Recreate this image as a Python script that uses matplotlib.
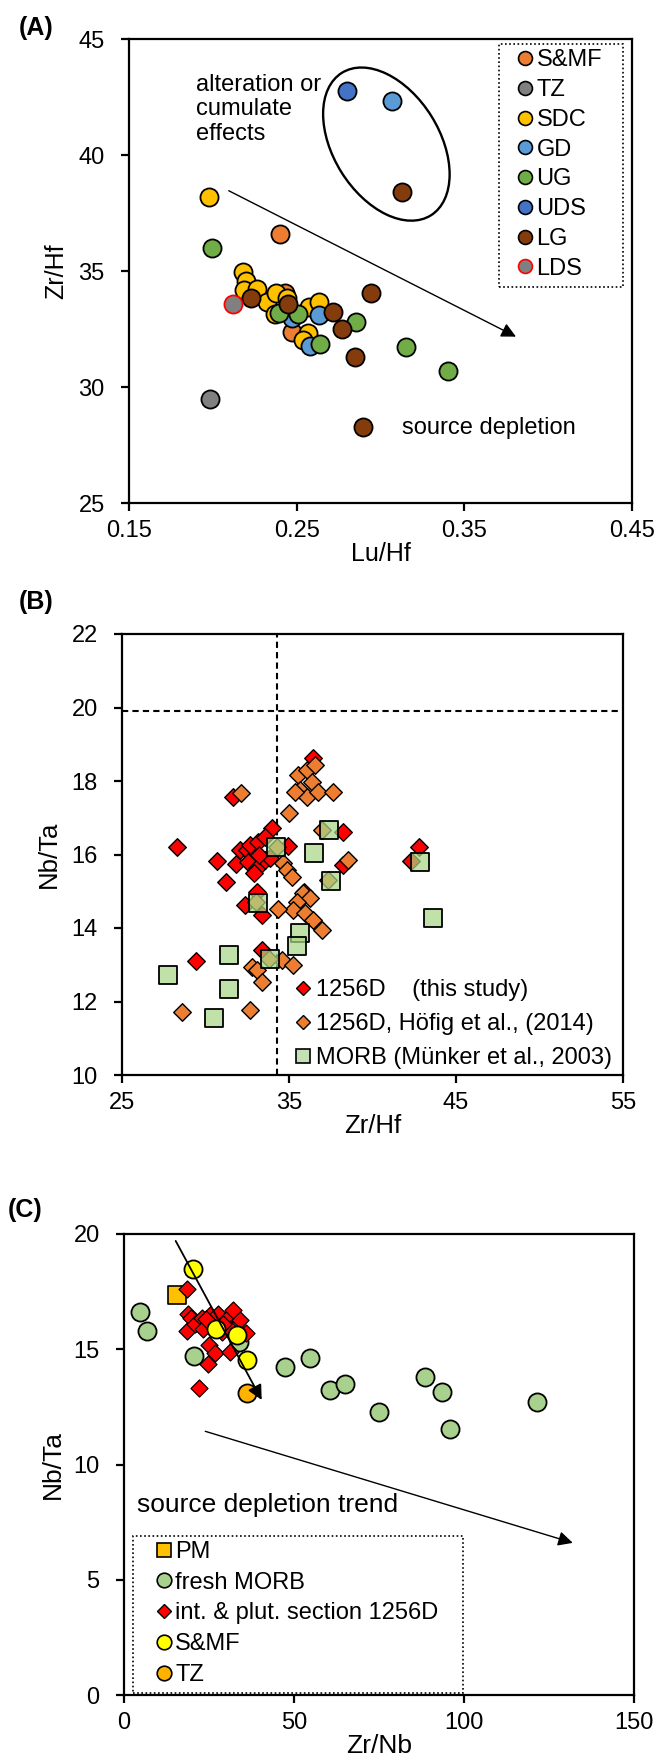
import matplotlib
matplotlib.use("Agg")
import matplotlib.pyplot as plt
from matplotlib.lines import Line2D
from matplotlib.patches import Ellipse, Rectangle
from matplotlib.transforms import ScaledTranslation

plt.rcParams['font.family'] = ['Liberation Sans', 'DejaVu Sans']
plt.rcParams['font.size'] = 17

# ---------------- (A) Zr/Hf vs Lu/Hf ----------------
a_groups = ["S&MF", "TZ", "SDC", "GD", "UG", "UDS", "LG", "LDS"]
a_face = ["#ED7D31", "#808080", "#FFC000", "#5B9BD5", "#70AD47", "#4472C4", "#843C0C", "#808080"]
a_edge = ["black", "black", "black", "black", "black", "black", "black", "#FF0000"]

a_smf_x = [0.2402, 0.2430, 0.2474]
a_smf_y = [36.58, 34.07, 32.38]
a_tz_x = [0.1983]
a_tz_y = [29.48]
a_sdc_x = [0.1975, 0.2178, 0.2198, 0.2186, 0.2265, 0.2321, 0.2377, 0.2445, 0.2371,
           0.2575, 0.2631, 0.2566, 0.2536]
a_sdc_y = [38.20, 34.97, 34.58, 34.18, 34.21, 33.68, 34.07, 33.85, 33.15,
           33.43, 33.68, 32.34, 32.03]
a_gd_x = [0.3069, 0.2470, 0.2631, 0.2580]
a_gd_y = [42.34, 32.96, 33.10, 31.77]
a_ug_x = [0.1997, 0.2397, 0.2506, 0.2852, 0.2639, 0.3150, 0.3400]
a_ug_y = [35.98, 33.20, 33.15, 32.79, 31.84, 31.74, 30.69]
a_uds_x = [0.2798]
a_uds_y = [42.77]
a_lg_x = [0.3126, 0.2226, 0.2450, 0.2714, 0.2768, 0.2941, 0.2848, 0.2893]
a_lg_y = [38.42, 33.82, 33.58, 33.25, 32.50, 34.04, 31.28, 28.29]
a_lds_x = [0.2122]
a_lds_y = [33.58]

a_xs = [a_smf_x, a_tz_x, a_sdc_x, a_gd_x, a_ug_x, a_uds_x, a_lg_x, a_lds_x]
a_ys = [a_smf_y, a_tz_y, a_sdc_y, a_gd_y, a_ug_y, a_uds_y, a_lg_y, a_lds_y]

a_xticks = [0.15, 0.25, 0.35, 0.45]
a_yticks = [25, 30, 35, 40, 45]

# ---------------- (B) Nb/Ta vs Zr/Hf ----------------
b_this_x = [28.27, 29.41, 30.67, 31.21, 31.67, 31.83, 32.07, 32.47, 32.56, 32.66,
            33.16, 33.07, 33.56, 33.96, 33.56, 33.86, 34.96, 33.07, 32.37, 33.37,
            33.37, 36.42, 38.26, 38.26, 42.79, 42.29, 35.92, 33.20, 32.90]
b_this_y = [16.20, 13.11, 15.82, 15.24, 17.57, 15.74, 16.12, 16.12, 15.80, 16.26,
            16.35, 15.62, 15.85, 16.71, 16.48, 15.90, 16.23, 14.99, 14.63, 14.35,
            13.40, 18.62, 16.62, 15.71, 16.20, 15.83, 14.99, 16.00, 15.50]
b_hofig_x = [32.13, 35.02, 35.52, 36.06, 36.56, 36.36, 35.66, 36.06, 36.76, 37.66,
             35.36, 36.96, 34.66, 34.86, 35.16, 34.26, 38.55, 37.36, 35.86, 36.26,
             35.46, 35.26, 35.96, 36.46, 36.96, 34.36, 33.02, 32.77, 33.07, 33.37,
             32.66, 28.57, 34.56, 35.22, 33.82]
b_hofig_y = [17.66, 17.12, 18.16, 18.30, 18.44, 17.98, 17.76, 17.57, 17.71, 17.71,
             17.71, 16.67, 15.76, 15.58, 15.40, 16.21, 15.85, 15.31, 14.94, 14.81,
             14.72, 14.49, 14.40, 14.22, 13.95, 14.51, 14.72, 12.95, 12.86, 12.54,
             11.77, 11.72, 13.13, 13.00, 13.17]
b_morb_x = [27.77, 30.53, 31.43, 31.43, 33.86, 33.16, 34.22, 36.50, 37.41, 37.53,
            35.66, 35.46, 42.84, 43.64]
b_morb_y = [12.72, 11.56, 12.34, 13.27, 13.17, 14.69, 16.20, 16.05, 16.67, 15.29,
            13.86, 13.51, 15.80, 14.26]
b_chondrite_zrhf = 34.3
b_chondrite_nbta = 19.9
b_xticks = [25, 35, 45, 55]
b_yticks = [10, 12, 14, 16, 18, 20, 22]

# ---------------- (C) Nb/Ta vs Zr/Nb ----------------
c_pm_x = [15.7]
c_pm_y = [17.35]
c_morb_x = [4.7, 6.9, 20.6, 33.9, 47.3, 54.8, 60.6, 65.0, 75.1, 88.5, 93.4, 95.9, 121.6]
c_morb_y = [16.6, 15.8, 14.7, 15.3, 14.25, 14.6, 13.23, 13.5, 12.27, 13.8, 13.13, 11.52, 12.69]
c_sec_x = [18.4, 22.1, 24.6, 25.1, 26.8, 31.3, 18.4, 18.9, 19.6, 20.9, 22.85, 23.3,
           25.3, 27.7, 30.2, 32.0, 34.1, 35.9, 28.7, 31.2, 24.0, 29.0]
c_sec_y = [17.6, 13.3, 14.35, 15.2, 14.85, 14.9, 15.8, 16.55, 16.35, 16.1, 16.35, 15.9,
           16.5, 16.55, 16.3, 16.7, 16.25, 15.7, 15.75, 15.9, 16.3, 16.1]
c_smf_x = [20.2, 27.0, 33.1, 36.1]
c_smf_y = [18.5, 15.9, 15.6, 14.55]
c_tz_x = [36.1]
c_tz_y = [13.1]
c_xticks = [0, 50, 100, 150]
c_yticks = [0, 5, 10, 15, 20]

W, H = 660, 1764
fig = plt.figure(figsize=(W / 100, H / 100), dpi=100)


def frame(ax):
    for s in ax.spines.values():
        s.set_linewidth(1.6)
    ax.tick_params(direction='out', length=6, width=1.6, labelsize=17)
    ax.tick_params(axis='x', pad=6)
    ax.tick_params(axis='y', pad=11.5)


def dotted_box(ax, x0, y0, x1, y1):
    ax.add_patch(Rectangle((x0, y0), x1 - x0, y1 - y0, transform=ax.transAxes,
                           fill=False, edgecolor='black', lw=1.2,
                           ls=(0, (1, 1.5)), clip_on=False, zorder=6))


# ---- panel A ----
axA = fig.add_axes([129 / W, 1 - 503 / H, 503 / W, 464 / H])
for x, y, fc, ec in zip(a_xs, a_ys, a_face, a_edge):
    axA.scatter(x, y, s=170, c=fc, edgecolors=ec, linewidths=1.3, zorder=3)
axA.set_xlim(0.15, 0.45)
axA.set_ylim(25, 45)
axA.set_xticks(a_xticks)
axA.set_xticklabels([f"{t:.2f}" for t in a_xticks])
axA.set_yticks(a_yticks)
frame(axA)
axA.set_xlabel("Lu/Hf", fontsize=18, labelpad=0)
axA.set_ylabel("Zr/Hf", fontsize=18)
axA.yaxis.set_label_coords(-0.121, 0.5)

a_handles = [Line2D([], [], marker='o', ls='none', ms=10, mfc=fc, mec=ec, mew=1.2)
             for fc, ec in zip(a_face, a_edge)]
axA.legend(a_handles, a_groups, loc='upper left', bbox_to_anchor=(0.775, 0.978),
           borderaxespad=0, fontsize=17, handlelength=0.5, handletextpad=0.25,
           labelspacing=0.33, borderpad=0.0, frameon=False)
dotted_box(axA, 0.735, 0.466, 0.982, 0.9886)

axA.text(0.1898, 43.5, "alteration or\ncumulate\neffects", fontsize=17,
         va='top', ha='left', linespacing=1.15)
axA.text(0.313, 28.25, "source depletion", fontsize=17, va='center', ha='left')

# ellipse around the off-trend group, drawn in inches about a data centre
ell_tr = fig.dpi_scale_trans + ScaledTranslation(0.3035, 40.47, axA.transData)
axA.add_patch(Ellipse((0, 0), 1.68, 1.06, angle=-58, transform=ell_tr,
                      fill=False, edgecolor='black', lw=1.7, zorder=4))
axA.annotate("", xy=(0.3808, 32.17), xytext=(0.2095, 38.46),
             arrowprops=dict(arrowstyle='-|>', color='black', lw=1.0,
                             mutation_scale=22, shrinkA=0, shrinkB=0), zorder=5)

# ---- panel B ----
axB = fig.add_axes([122 / W, 1 - 1075 / H, 501 / W, 441 / H])
axB.axvline(b_chondrite_zrhf, color='black', ls=(0, (3, 2)), lw=1.5, zorder=1)
axB.axhline(b_chondrite_nbta, color='black', ls=(0, (3, 2)), lw=1.5, zorder=1)
axB.scatter(b_this_x, b_this_y, marker='D', s=80, c='#FF0000', edgecolors='black',
            linewidths=1.0, zorder=3)
axB.scatter(b_hofig_x, b_hofig_y, marker='D', s=80, c='#ED7D31', edgecolors='black',
            linewidths=1.0, zorder=3)
axB.scatter(b_morb_x, b_morb_y, marker='s', s=180, c=[(0.66, 0.84, 0.52, 0.72)],
            edgecolors='black', linewidths=1.3, zorder=4)
axB.set_xlim(25, 55)
axB.set_ylim(10, 22)
axB.set_xticks(b_xticks)
axB.set_yticks(b_yticks)
frame(axB)
axB.set_xlabel("Zr/Hf", fontsize=18.5, labelpad=0)
axB.set_ylabel("Nb/Ta", fontsize=18.5)
axB.yaxis.set_label_coords(-0.123, 0.5)
b_handles = [
    Line2D([], [], marker='D', ls='none', ms=7.5, mfc='#FF0000', mec='black', mew=1.0),
    Line2D([], [], marker='D', ls='none', ms=7.5, mfc='#ED7D31', mec='black', mew=1.0),
    Line2D([], [], marker='s', ls='none', ms=10.5, mfc='#C5E0B4', mec='black', mew=1.2),
]
b_labels = ["1256D    (this study)", "1256D, Höfig et al., (2014)", "MORB (Münker et al., 2003)"]
axB.legend(b_handles, b_labels, loc='upper left', bbox_to_anchor=(0.349, 0.218),
           borderaxespad=0, fontsize=17, handlelength=0.5, handletextpad=0.3,
           labelspacing=0.52, borderpad=0.0, frameon=False)

# ---- panel C ----
axC = fig.add_axes([124 / W, 1 - 1695 / H, 510 / W, 461 / H])
axC.scatter(c_pm_x, c_pm_y, marker='s', s=170, c='#FFC000', edgecolors='black',
            linewidths=1.2, zorder=3)
axC.scatter(c_morb_x, c_morb_y, marker='o', s=170, c='#A9D18E', edgecolors='black',
            linewidths=1.3, zorder=3)
axC.scatter(c_sec_x, c_sec_y, marker='D', s=75, c='#FF0000', edgecolors='black',
            linewidths=0.9, zorder=4)
axC.scatter(c_smf_x, c_smf_y, marker='o', s=170, c='#FFFF00', edgecolors='black',
            linewidths=1.3, zorder=5)
axC.scatter(c_tz_x, c_tz_y, marker='o', s=170, c='#FFB300', edgecolors='black',
            linewidths=1.3, zorder=5)
axC.set_xlim(0, 150)
axC.set_ylim(0, 20)
axC.set_xticks(c_xticks)
axC.set_yticks(c_yticks)
frame(axC)
axC.set_xlabel("Zr/Nb", fontsize=19, labelpad=0)
axC.set_ylabel("Nb/Ta", fontsize=19)
axC.yaxis.set_label_coords(-0.115, 0.5)
axC.annotate("", xy=(40.5, 12.8), xytext=(15.2, 19.7),
             arrowprops=dict(arrowstyle='-|>', color='black', lw=1.3,
                             mutation_scale=22, shrinkA=0, shrinkB=0), zorder=6)
axC.annotate("", xy=(132.0, 6.6), xytext=(23.9, 11.44),
             arrowprops=dict(arrowstyle='-|>', color='black', lw=1.0,
                             mutation_scale=22, shrinkA=0, shrinkB=0), zorder=6)
axC.text(3.8, 8.23, "source depletion trend", fontsize=19, va='center', ha='left')
c_handles = [
    Line2D([], [], marker='s', ls='none', ms=10.5, mfc='#FFC000', mec='black', mew=1.2),
    Line2D([], [], marker='o', ls='none', ms=10.5, mfc='#A9D18E', mec='black', mew=1.2),
    Line2D([], [], marker='D', ls='none', ms=6.8, mfc='#FF0000', mec='black', mew=1.0),
    Line2D([], [], marker='o', ls='none', ms=10.5, mfc='#FFFF00', mec='black', mew=1.2),
    Line2D([], [], marker='o', ls='none', ms=10.5, mfc='#FFB300', mec='black', mew=1.2),
]
c_labels = ["PM", "fresh MORB", "int. & plut. section 1256D", "S&MF", "TZ"]
axC.legend(c_handles, c_labels, loc='upper left', bbox_to_anchor=(0.0659, 0.334),
           borderaxespad=0, fontsize=17, handlelength=0.5, handletextpad=0.25,
           labelspacing=0.37, borderpad=0.0, frameon=False)
dotted_box(axC, 0.018, 0.004, 0.665, 0.345)

fig.text(19 / W, 1 - 28 / H, "(A)", fontsize=18, fontweight='bold', va='center', ha='left')
fig.text(19 / W, 1 - 602 / H, "(B)", fontsize=18, fontweight='bold', va='center', ha='left')
fig.text(8 / W, 1 - 1210 / H, "(C)", fontsize=18, fontweight='bold', va='center', ha='left')

fig.savefig("out.png", dpi=100)
